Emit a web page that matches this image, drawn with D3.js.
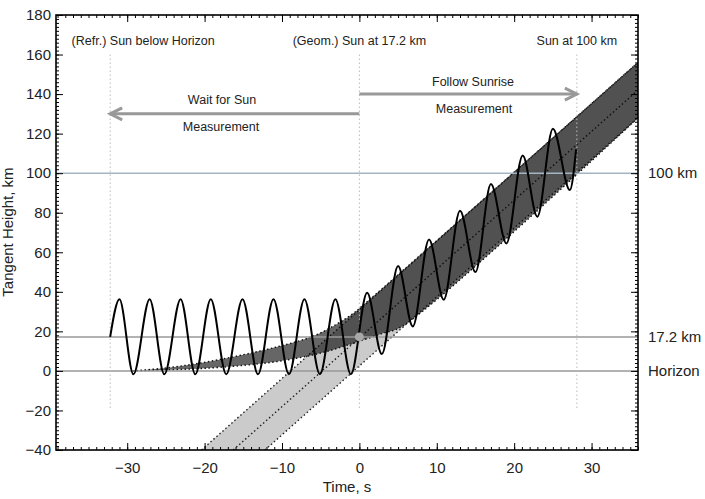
<!DOCTYPE html>
<html>
<head>
<meta charset="utf-8">
<script src="https://cdn.jsdelivr.net/npm/d3@7"></script>
<style>
  body { margin: 0; background: #fff; }
  text { font-family: Arial, "Liberation Sans", Helvetica, sans-serif; fill: #222; }
  .axis text { font-size: 15px; }
  .axis path { display: none; }
  .axis line { stroke: #000; }
</style>
</head>
<body>
<div id="chart"></div>
<script>
// ---- data ----
var xDomain = [-39.2, 36];
var yDomain = [-40, 180];
var xTicks = [-30, -20, -10, 0, 10, 20, 30];
var yTicks = [-40, -20, 0, 20, 40, 60, 80, 100, 120, 140, 160, 180];

// horizontal reference levels (km)
var levelValues = [100, 17.2, 0];
var levelLabels = ["100 km", "17.2 km", "Horizon"];
var levelColors = ["#a3b5c4", "#999", "#999"];

// event times (s)
var eventTimes = [-32.2, 0, 28.1];
var eventLabels = ["(Refr.) Sun below Horizon", "(Geom.) Sun at 17.2 km", "Sun at 100 km"];

// geometric sun band (edges and centre), [t, h]
var geomUpper = [[-20.4, -40], [36, 156]];
var geomCenter = [[-16.3, -40], [36, 142]];
var geomLower = [[-12.2, -40], [36, 128]];

// refracted sun band, [t, h]
var refrUpper = [[-29.3, 0], [-25, 1.5], [-20.5, 4], [-15, 8.2], [-10.2, 12.6], [-6, 17.5],
                 [-3, 23.5], [-1, 28.5], [1, 35], [36, 156]];
var refrLower = [[-29.3, 0], [-25, 0.5], [-20.5, 1.2], [-15, 2.8], [-10.2, 5], [-5, 9],
                 [-2, 12.5], [0, 15], [3, 19], [5.5, 22.5], [36, 128]];

// scan pattern: start, extrema, end
var scanT = [-32.2, -31.0, -29.2, -27.1, -25.2, -23.1, -21.2, -19.2, -17.2, -15.1, -13.1,
             -11.1, -9.1, -7.1, -5.1, -3.1, -1.1, 1.0, 2.9, 5.0, 6.9, 9.0, 10.9, 13.0, 15.0,
             17.0, 19.0, 21.1, 23.0, 25.0, 27.2, 28.0];
var scanH = [17.2, 36.2, -1.7, 36.2, -1.7, 36.2, -1.7, 36.2, -1.7, 36.2, -1.7,
             36.2, -1.7, 36.2, -1.7, 36.2, -1.7, 39.5, 8.5, 53, 22.5, 66.5, 36, 81, 50,
             94.5, 64.5, 109, 78, 122.5, 91.5, 112];

// phase arrows
var waitArrow = {from: 0, to: -32.2, h: 130};
var followArrow = {from: 0, to: 28.1, h: 140};

// ---- layout ----
var W = 705, H = 499;
var margin = {top: 15, right: 67, bottom: 49, left: 56};
var width = W - margin.left - margin.right;
var height = H - margin.top - margin.bottom;

var svg = d3.select("#chart").append("svg")
    .attr("width", W).attr("height", H);

var x = d3.scaleLinear().domain(xDomain).range([0, width]);
var y = d3.scaleLinear().domain(yDomain).range([height, 0]);

var g = svg.append("g")
    .attr("transform", "translate(" + margin.left + "," + margin.top + ")");

svg.append("defs").append("clipPath").attr("id", "plot-clip")
    .append("rect").attr("width", width).attr("height", height);

var plot = g.append("g").attr("clip-path", "url(#plot-clip)");

var lineLin = d3.line().x(function(d){ return x(d[0]); }).y(function(d){ return y(d[1]); });
var lineCR = d3.line().x(function(d){ return x(d[0]); }).y(function(d){ return y(d[1]); })
    .curve(d3.curveCatmullRom.alpha(0.5));

// geometric band
plot.append("path")
    .attr("d", lineLin(geomUpper) + lineLin(geomLower.slice().reverse()).replace(/^M/, "L") + "Z")
    .attr("fill", "#cbcbcb");

[geomUpper, geomCenter, geomLower].forEach(function(l){
  plot.append("path").attr("d", lineLin(l))
      .attr("fill", "none").attr("stroke", "#222")
      .attr("stroke-width", 1.4).attr("stroke-dasharray", "1.5,2.5");
});

// refracted band
plot.append("path")
    .attr("d", lineCR(refrUpper) + lineCR(refrLower.slice().reverse()).replace(/^M/, "L") + "Z")
    .attr("fill", "#000").attr("fill-opacity", 0.6);

[refrUpper, refrLower].forEach(function(l){
  plot.append("path").attr("d", lineCR(l))
      .attr("fill", "none").attr("stroke", "#111")
      .attr("stroke-width", 1.4).attr("stroke-dasharray", "1.5,2.5");
});

// reference levels
plot.selectAll(".level").data(levelValues).enter().append("line")
    .attr("class", "level")
    .attr("x1", 0).attr("x2", width)
    .attr("y1", function(d){ return y(d); }).attr("y2", function(d){ return y(d); })
    .attr("stroke", function(d, i){ return levelColors[i]; })
    .attr("stroke-width", 1.5);

g.selectAll(".level-label").data(levelValues).enter().append("text")
    .attr("class", "level-label")
    .attr("x", width + 10)
    .attr("y", function(d){ return y(d); })
    .attr("dy", "0.35em")
    .style("font-size", "15px")
    .text(function(d, i){ return levelLabels[i]; });

// event lines
plot.selectAll(".event").data(eventTimes).enter().append("line")
    .attr("class", "event")
    .attr("x1", function(d){ return x(d); }).attr("x2", function(d){ return x(d); })
    .attr("y1", y(160)).attr("y2", y(-20))
    .attr("stroke", "#bbb").attr("stroke-width", 1)
    .attr("stroke-dasharray", "1.5,2.5");

var eventAnchor = ["middle", "middle", "middle"];
var eventShift = [33, 0, 0];
g.selectAll(".event-label").data(eventTimes).enter().append("text")
    .attr("class", "event-label")
    .attr("x", function(d, i){ return x(d) + eventShift[i]; })
    .attr("y", 30)
    .attr("text-anchor", function(d, i){ return eventAnchor[i]; })
    .style("font-size", "12.5px")
    .text(function(d, i){ return eventLabels[i]; });

// arrows
function arrow(a){
  var x0 = x(a.from), x1 = x(a.to), yy = y(a.h);
  var dir = x1 < x0 ? 1 : -1;
  g.append("line").attr("x1", x0).attr("x2", x1).attr("y1", yy).attr("y2", yy)
      .attr("stroke", "#999").attr("stroke-width", 3);
  g.append("path")
      .attr("d", "M" + (x1 + dir * 12) + "," + (yy - 6) + "L" + x1 + "," + yy + "L" + (x1 + dir * 12) + "," + (yy + 6))
      .attr("fill", "none").attr("stroke", "#999").attr("stroke-width", 3);
}
arrow(waitArrow);
arrow(followArrow);

function label(txt, px, py){
  g.append("text").attr("x", px - margin.left).attr("y", py - margin.top)
      .attr("text-anchor", "middle").style("font-size", "12.5px").text(txt);
}
label("Wait for Sun", 222, 104);
label("Measurement", 221, 131);
label("Follow Sunrise", 473, 86);
label("Measurement", 474, 113);

// scan
var scan = scanT.map(function(t, i){ return [t, scanH[i]]; });
plot.append("path")
    .attr("d", d3.line().x(function(d){ return x(d[0]); }).y(function(d){ return y(d[1]); })
        .curve(d3.curveMonotoneX)(scan))
    .attr("fill", "none").attr("stroke", "#000").attr("stroke-width", 2);

plot.append("circle").attr("cx", x(0)).attr("cy", y(17.2)).attr("r", 4.5)
    .attr("fill", "#a8a8a8");

// axes: minor + major ticks, inward on all four sides
var xMinor = d3.range(-39, 37, 1);
var yMinor = d3.range(-40, 181, 2);

g.append("g").attr("class", "axis").attr("transform", "translate(0," + height + ")")
    .call(d3.axisBottom(x).tickValues(xMinor).tickSize(-3).tickFormat(""));
g.append("g").attr("class", "axis").attr("transform", "translate(0," + height + ")")
    .call(d3.axisBottom(x).tickValues(xTicks).tickSize(-7).tickPadding(12).tickFormat(d3.format("d")));
g.append("g").attr("class", "axis")
    .call(d3.axisTop(x).tickValues(xMinor).tickSize(-3).tickFormat(""));
g.append("g").attr("class", "axis")
    .call(d3.axisTop(x).tickValues(xTicks).tickSize(-7).tickFormat(""));

g.append("g").attr("class", "axis")
    .call(d3.axisLeft(y).tickValues(yMinor).tickSize(-3).tickFormat(""));
g.append("g").attr("class", "axis")
    .call(d3.axisLeft(y).tickValues(yTicks).tickSize(-7).tickPadding(5).tickFormat(d3.format("d")));
g.append("g").attr("class", "axis").attr("transform", "translate(" + width + ",0)")
    .call(d3.axisRight(y).tickValues(yMinor).tickSize(-3).tickFormat(""));
g.append("g").attr("class", "axis").attr("transform", "translate(" + width + ",0)")
    .call(d3.axisRight(y).tickValues(yTicks).tickSize(-7).tickFormat(""));

g.append("rect").attr("width", width).attr("height", height)
    .attr("fill", "none").attr("stroke", "#000").attr("stroke-width", 1.6);

// axis titles
g.append("text").attr("x", width / 2).attr("y", height + 42)
    .attr("text-anchor", "middle").style("font-size", "15px").text("Time, s");
g.append("text")
    .attr("transform", "translate(" + (13 - margin.left) + "," + (232 - margin.top) + ") rotate(-90)")
    .attr("text-anchor", "middle").style("font-size", "15px").text("Tangent Height, km");
</script>
</body>
</html>
